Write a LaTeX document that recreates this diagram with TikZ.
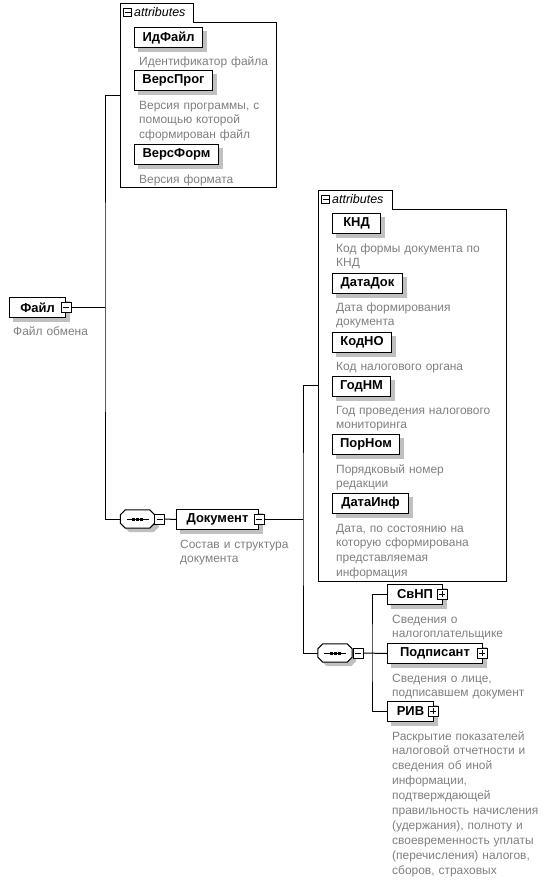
\documentclass[tikz,border=0pt]{standalone}
\usepackage{fontspec}
\setmainfont{Liberation Sans}
\definecolor{descgray}{RGB}{128,128,128}
\definecolor{shadgray}{RGB}{192,192,192}
\pgfdeclarelayer{back}
\pgfdeclarelayer{shadowlayer}
\pgfsetlayers{back,shadowlayer,main}
\newcommand\octpath[3]{([xshift=#2+5bp, yshift=#3]#1.north west) -- ([xshift=#2-5bp, yshift=#3]#1.north east) -- ([xshift=#2, yshift=#3-5bp]#1.north east) -- ([xshift=#2, yshift=#3+5bp]#1.south east) -- ([xshift=#2-5bp, yshift=#3]#1.south east) -- ([xshift=#2+5bp, yshift=#3]#1.south west) -- ([xshift=#2, yshift=#3+5bp]#1.south west) -- ([xshift=#2, yshift=#3-5bp]#1.north west) -- cycle}
\tikzset{
  x=1bp, y=-1bp,
  elem/.style={draw, fill=white, line width=1bp, inner sep=0, minimum height=20bp,
    anchor=north west, font=\fontsize{13}{15}\selectfont\bfseries},
  desc/.style={anchor=base west, inner sep=0, text width=220bp, align=left,
    font=\fontsize{12}{15}\selectfont, text=descgray},
  icn/.style={draw, fill=white, line width=0.8bp, minimum size=10bp, inner sep=0},
  icnminus/.style={icn, path picture={\draw[line width=0.8bp] ([xshift=-3bp]path picture bounding box.center) -- ([xshift=3bp]path picture bounding box.center);}},
  icnplus/.style={icn, path picture={\draw[line width=0.8bp] ([xshift=-3bp]path picture bounding box.center) -- ([xshift=3bp]path picture bounding box.center); \draw[line width=0.8bp] ([yshift=-3bp]path picture bounding box.center) -- ([yshift=3bp]path picture bounding box.center);}},
  tabicn/.style={icnminus, minimum size=8bp},
  tabtext/.style={anchor=base west, inner sep=0, font=\fontsize{12.5}{14}\selectfont\itshape},
  seq/.style={inner sep=0, minimum width=34bp, minimum height=18bp},
  grp/.style={inner sep=0, anchor=north west},
  conn/.style={line width=1bp},
}
\begin{document}
\begin{tikzpicture}
\begin{pgfonlayer}{back}
\fill[white] (0,0) rectangle (549,890);
\end{pgfonlayer}
\useasboundingbox (0,0) rectangle (549,890);

% ---------- top attributes group ----------
\node[grp, minimum width=156bp, minimum height=184bp] (attrs1) at (120,3) {};
\draw[conn] (120,187) -- (120,3) -- (193,3) -- (193,22.7) -- (276,22.7) -- (276,187) -- cycle;
\node[tabicn] (tab1i) at (127.5,12.5) {};
\node[tabtext] (tab1t) at (134,16.5) {attributes};

\node[elem, minimum width=68bp] (idf) at (134,27) {ИдФайл};
\node[desc] (idfd) at (139,65) {Идентификатор файла};
\node[elem, minimum width=78bp] (vprog) at (134,70) {ВерсПрог};
\node[desc] (vprogd) at (139,109) {Версия программы, с\\помощью которой\\сформирован файл};
\node[elem, minimum width=84bp] (vform) at (134,144) {ВерсФорм};
\node[desc] (vformd) at (139,183) {Версия формата};

% ---------- root ----------
\node[elem, minimum width=56bp] (file) at (9,297) {Файл\hspace{5bp}};
\node[icnminus] (fileI) at (66,307) {};
\node[desc] (filed) at (13,335) {Файл обмена};

% ---------- sequence 1 and Документ ----------
\node[seq] (seq1) at (137.5,519) {};
\draw[conn, fill=white] \octpath{seq1}{0bp}{0bp};
\draw[line width=1bp] ([xshift=-11bp]seq1.center) -- ([xshift=11bp]seq1.center);
\fill ([xshift=-5.5bp,yshift=1.5bp]seq1.center) rectangle ++(3,3);
\fill ([xshift=-1.5bp,yshift=1.5bp]seq1.center) rectangle ++(3,3);
\fill ([xshift=2.5bp,yshift=1.5bp]seq1.center) rectangle ++(3,3);
\node[icnminus] (seq1I) at (159.5,519) {};

\node[elem, minimum width=82bp] (doc) at (176,509) {Документ\hspace{5bp}};
\node[icnminus] (docI) at (259,519) {};
\node[desc] (docd) at (180,548) {Состав и структура\\документа};

% ---------- lower attributes group ----------
\node[grp, minimum width=188bp, minimum height=391bp] (attrs2) at (318,190) {};
\draw[conn] (318,581) -- (318,190) -- (392,190) -- (392,209) -- (506,209) -- (506,581) -- cycle;
\node[tabicn] (tab2i) at (325.5,199.5) {};
\node[tabtext] (tab2t) at (332,203.5) {attributes};

\node[elem, minimum width=48bp] (knd) at (332,213) {КНД};
\node[desc] (kndd) at (336,252) {Код формы документа по\\КНД};
\node[elem, minimum width=70bp] (datadok) at (332,273) {ДатаДок};
\node[desc] (datadokd) at (336,311) {Дата формирования\\документа};
\node[elem, minimum width=59bp] (kodno) at (332,332) {КодНО};
\node[desc] (kodnod) at (336,370) {Код налогового органа};
\node[elem, minimum width=58bp] (godnm) at (332,376) {ГодНМ};
\node[desc] (godnmd) at (336,414) {Год проведения налогового\\мониторинга};
\node[elem, minimum width=67bp] (pornom) at (332,434) {ПорНом};
\node[desc] (pornomd) at (336,473) {Порядковый номер\\редакции};
\node[elem, minimum width=76bp] (datainf) at (332,493) {ДатаИнф};
\node[desc] (datainfd) at (336,532) {Дата, по состоянию на\\которую сформирована\\представляемая\\информация};

% ---------- sequence 2 and children ----------
\node[seq] (seq2) at (335,653) {};
\draw[conn, fill=white] \octpath{seq2}{0bp}{0bp};
\draw[line width=1bp] ([xshift=-11bp]seq2.center) -- ([xshift=11bp]seq2.center);
\fill ([xshift=-5.5bp,yshift=1.5bp]seq2.center) rectangle ++(3,3);
\fill ([xshift=-1.5bp,yshift=1.5bp]seq2.center) rectangle ++(3,3);
\fill ([xshift=2.5bp,yshift=1.5bp]seq2.center) rectangle ++(3,3);
\node[icnminus] (seq2I) at (358,653) {};

\node[elem, minimum width=55bp] (svnp) at (387,584) {СвНП\hspace{5bp}};
\node[icnplus] (svnpI) at (442,594) {};
\node[desc] (svnpd) at (392,623) {Сведения о\\налогоплательщике};
\node[elem, minimum width=95bp] (podp) at (387,643) {Подписант\hspace{5bp}};
\node[icnplus] (podpI) at (482,653) {};
\node[desc] (podpd) at (392,682) {Сведения о лице,\\подписавшем документ};
\node[elem, minimum width=46bp] (riv) at (387,701) {РИВ\hspace{5bp}};
\node[icnplus] (rivI) at (433,711) {};
\node[desc] (rivd) at (392,740) {Раскрытие показателей\\налоговой отчетности и\\сведения об иной\\информации,\\подтверждающей\\правильность начисления\\(удержания), полноту и\\своевременность уплаты\\(перечисления) налогов,\\сборов, страховых};

% ---------- shadows ----------
\begin{pgfonlayer}{shadowlayer}
\foreach \n in {idf,vprog,vform,file,doc,knd,datadok,kodno,godnm,pornom,datainf,svnp,podp,riv}
  \fill[shadgray] ([xshift=4bp,yshift=-4bp]\n.south west) rectangle ([xshift=4bp,yshift=-4bp]\n.north east);
\fill[shadgray] \octpath{seq1}{4bp}{-4bp};
\fill[shadgray] \octpath{seq2}{4bp}{-4bp};
\end{pgfonlayer}

% ---------- connectors ----------
\coordinate (j1) at (105,307);
\coordinate (j2) at (303,519);
\coordinate (j3) at (372,653);
\draw[conn] (fileI.east) -- (j1);
\draw[conn] (attrs1.west) -| (j1) |- (seq1.west);
\draw[conn] (seq1I.east) -- (doc.west);
\draw[conn] (docI.east) -- (j2);
\draw[conn] (attrs2.west) -| (j2) |- (seq2.west);
\draw[conn] (seq2I.east) -- (podp.west);
\draw[conn] (svnp.west) -| (j3) |- (riv.west);
\end{tikzpicture}
\end{document}
